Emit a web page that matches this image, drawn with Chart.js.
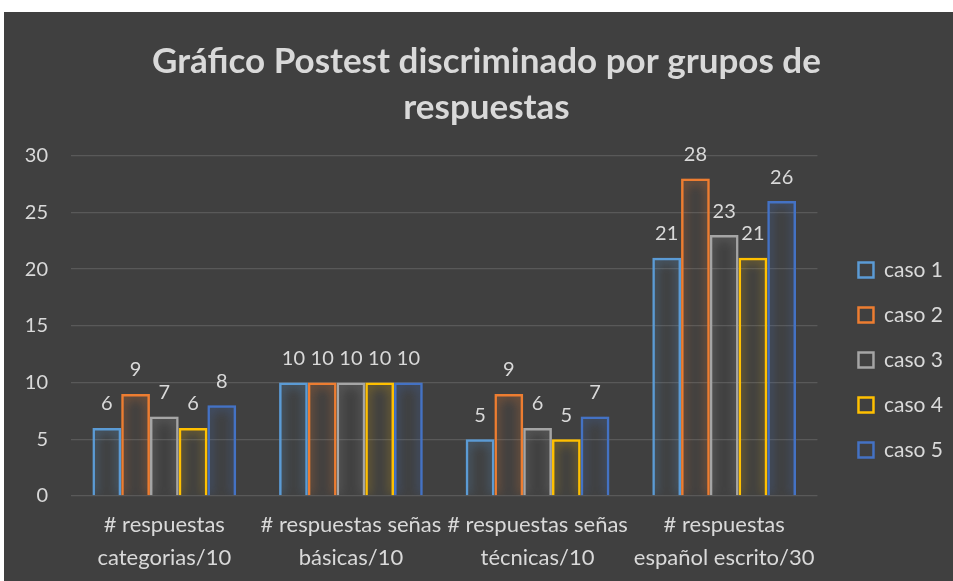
<!DOCTYPE html>
<html>
<head>
<meta charset="utf-8">
<script src="https://cdn.jsdelivr.net/npm/chart.js@4"></script>
<style>
  html, body { margin: 0; padding: 0; background: #ffffff; overflow: hidden; }
  #caja { position: absolute; left: 4px; top: 12px; width: 949px; height: 569px; background: #404040; }
</style>
</head>
<body>
<div id="caja"><canvas id="grafico" width="949" height="569"></canvas></div>
<script>
const categorias = [
  ["# respuestas", "categorias/10"],
  ["# respuestas señas", "básicas/10"],
  ["# respuestas señas", "técnicas/10"],
  ["# respuestas", "español escrito/30"]
];
const caso1 = [6, 10, 5, 21];
const caso2 = [9, 10, 9, 28];
const caso3 = [7, 10, 6, 23];
const caso4 = [6, 10, 5, 21];
const caso5 = [8, 10, 7, 26];
const nombres = ["caso 1", "caso 2", "caso 3", "caso 4", "caso 5"];
const colores = ["#5b9bd5", "#ed7d31", "#a5a5a5", "#ffc000", "#4472c4"];
const brillos = ["rgba(91,155,213,0.95)", "rgba(237,125,49,0.95)", "rgba(165,165,165,0.8)", "rgba(255,192,0,0.8)", "rgba(68,114,196,1)"];

const textoGris = "#d9d9d9";
const fuente = "Lato, 'Open Sans', sans-serif";

// brillo alrededor de las barras
const pluginBrillo = {
  id: "brillo",
  beforeDatasetDraw(chart, args) {
    const ctx = chart.ctx;
    ctx.save();
    ctx.shadowColor = brillos[args.index];
    ctx.shadowBlur = 12;
  },
  afterDatasetDraw(chart) {
    chart.ctx.restore();
  }
};

// etiquetas de valores sobre cada barra
const pluginEtiquetas = {
  id: "etiquetas",
  afterDatasetsDraw(chart) {
    const ctx = chart.ctx;
    ctx.save();
    ctx.fillStyle = textoGris;
    ctx.font = "20px " + fuente;
    ctx.textAlign = "center";
    ctx.textBaseline = "bottom";
    chart.data.datasets.forEach((ds, i) => {
      const meta = chart.getDatasetMeta(i);
      meta.data.forEach((barra, j) => {
        ctx.fillText(ds.data[j], barra.x, barra.y - 14);
      });
    });
    ctx.restore();
  }
};

const series = [caso1, caso2, caso3, caso4, caso5];

const config = {
  type: "bar",
  data: {
    labels: categorias,
    datasets: series.map((valores, i) => ({
      label: nombres[i],
      data: valores,
      backgroundColor: "rgba(0,0,0,0)",
      borderColor: colores[i],
      borderWidth: 2.5,
      categoryPercentage: 0.77,
      barPercentage: 1
    }))
  },
  options: {
    responsive: false,
    animation: false,
    layout: { padding: { left: 16, right: 0, top: 0, bottom: 3 } },
    plugins: {
      title: {
        display: true,
        text: ["Gráfico Postest discriminado por grupos de", "respuestas"],
        color: textoGris,
        font: { family: fuente, size: 35, weight: "bold", lineHeight: 1.31 },
        padding: { top: 27, bottom: 25 }
      },
      legend: {
        position: "right",
        title: { display: true, text: " ", font: { size: 10 }, padding: { top: 118, bottom: 0 } },
        labels: {
          color: textoGris,
          font: { family: fuente, size: 21 },
          boxWidth: 15,
          boxHeight: 15,
          padding: 24
        }
      },
      tooltip: { enabled: false }
    },
    scales: {
      x: {
        grid: { display: false },
        border: { display: false },
        ticks: { color: textoGris, font: { family: fuente, size: 22, lineHeight: 1.5 }, maxRotation: 0, autoSkip: false, padding: 4 }
      },
      y: {
        min: 0,
        max: 30,
        afterFit(escala) { escala.width = 51; },
        ticks: { stepSize: 5, color: textoGris, font: { family: fuente, size: 20 }, padding: 23 },
        grid: { color: "#595959", lineWidth: 1.3, tickLength: 0 },
        border: { display: false }
      },
      // espacio vacío entre el gráfico y la leyenda
      hueco: {
        type: "linear",
        position: "right",
        display: true,
        afterFit(escala) { escala.width = 17; },
        ticks: { display: false },
        grid: { display: false },
        border: { display: false }
      }
    }
  },
  plugins: [pluginBrillo, pluginEtiquetas]
};

new Chart(document.getElementById("grafico"), config);
</script>
</body>
</html>
